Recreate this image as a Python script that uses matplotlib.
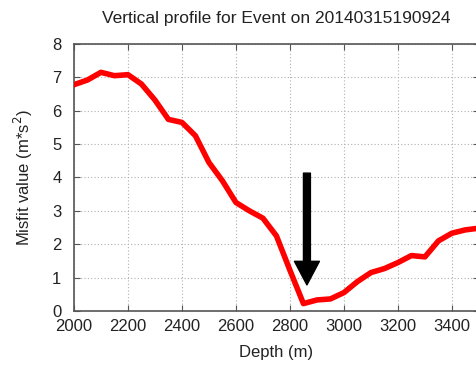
import numpy as np
import matplotlib
matplotlib.use("Agg")
import matplotlib.pyplot as plt

# depth samples (m) and misfit values along the vertical profile
depth = [2000, 2050, 2100, 2150, 2200, 2250, 2300, 2350, 2400, 2450,
         2500, 2550, 2600, 2650, 2700, 2750, 2800, 2850, 2900, 2950,
         3000, 3050, 3100, 3150, 3200, 3250, 3300, 3350, 3400, 3450, 3500]
misfit = [6.78, 6.92, 7.15, 7.05, 7.08, 6.80, 6.32, 5.74, 5.65, 5.25,
          4.45, 3.90, 3.25, 3.00, 2.78, 2.25, 1.22, 0.22, 0.33, 0.36,
          0.55, 0.88, 1.15, 1.27, 1.45, 1.66, 1.62, 2.10, 2.33, 2.43, 2.48]

best_depth = 2863          # arrow marks the minimum
arrow_top, arrow_tip = 4.13, 0.78

plt.rcParams["font.family"] = ["Liberation Sans", "DejaVu Sans"]

fig = plt.figure(figsize=(4.77, 3.68), dpi=100)
ax = fig.add_axes([0.155, 0.155, 0.849, 0.7255])

ax.plot(depth, misfit, color="red", linewidth=4, solid_joinstyle="round", zorder=3)

# black arrow pointing at the best depth
ax.annotate("", xy=(best_depth, arrow_tip), xytext=(best_depth, arrow_top),
            arrowprops=dict(arrowstyle="simple,head_width=1.8,head_length=1.7,tail_width=0.5",
                            color="black", shrinkA=0, shrinkB=0), zorder=4)

ax.set_xlim(2000, 3500)
ax.set_ylim(0, 8)
ax.set_xticks(np.arange(2000, 3401, 200))
ax.set_yticks(np.arange(0, 9, 1))
ax.grid(True, linestyle=(0, (1, 2)), color="#b0b0b0", linewidth=0.8)
ax.tick_params(direction="in", length=4, color="#555555", labelsize=12,
               labelcolor="#222222", top=True, right=True)
ax.tick_params(axis="x", pad=6)
ax.tick_params(axis="y", pad=9)
for s in ax.spines.values():
    s.set_color("#555555")
    s.set_linewidth(1.2)

ax.set_xlabel("Depth (m)", fontsize=12, color="#222222", labelpad=8)
ax.set_ylabel("Misfit value (m*s$^2$)", fontsize=12, color="#222222", labelpad=12)
ax.set_title("Vertical profile for Event on 20140315190924", fontsize=12.5,
             color="#222222", pad=15)

fig.savefig("out.png", dpi=100)
